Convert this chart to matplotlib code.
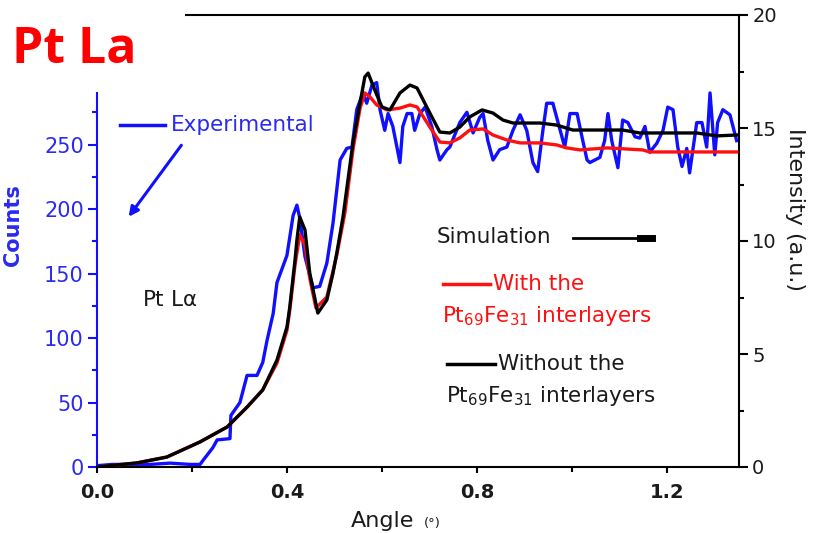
import matplotlib
matplotlib.use("Agg")
import matplotlib.pyplot as plt
from matplotlib.lines import Line2D
from matplotlib.patches import FancyArrowPatch

plt.rcParams['font.family'] = ['DejaVu Sans']

# ---------------- data ----------------
exp_angle = [0.000, 0.032, 0.112, 0.154, 0.196, 0.217, 0.223, 0.244, 0.253, 0.280, 0.282,
             0.301, 0.316, 0.337, 0.349, 0.358, 0.371, 0.379, 0.400, 0.413, 0.421, 0.427,
             0.438, 0.455, 0.469, 0.484, 0.497, 0.512, 0.526, 0.537, 0.547, 0.560, 0.568,
             0.579, 0.589, 0.596, 0.606, 0.613, 0.623, 0.638, 0.644, 0.653, 0.663, 0.669,
             0.680, 0.691, 0.705, 0.716, 0.722, 0.737, 0.743, 0.764, 0.779, 0.792, 0.806,
             0.813, 0.823, 0.834, 0.848, 0.863, 0.876, 0.891, 0.905, 0.918, 0.928, 0.939,
             0.947, 0.960, 0.971, 0.985, 0.996, 1.011, 1.023, 1.032, 1.038, 1.059, 1.069,
             1.076, 1.084, 1.097, 1.107, 1.118, 1.133, 1.143, 1.154, 1.164, 1.179, 1.192,
             1.202, 1.213, 1.223, 1.232, 1.242, 1.248, 1.263, 1.274, 1.284, 1.291, 1.301,
             1.307, 1.318, 1.333, 1.347]
exp_counts = [1, 2, 2, 3, 2, 2, 5, 15, 21, 22, 40,
              50, 71, 71, 81, 98, 119, 143, 164, 195, 203, 193,
              163, 139, 140, 158, 189, 238, 247, 248, 277, 290, 282,
              296, 298, 277, 261, 274, 264, 236, 264, 274, 274, 261,
              274, 279, 264, 246, 238, 246, 248, 267, 275, 259, 271,
              274, 253, 238, 246, 248, 261, 273, 261, 236, 229, 261,
              282, 282, 267, 248, 274, 274, 253, 238, 236, 240, 253,
              274, 253, 232, 269, 267, 256, 255, 264, 244, 251, 261,
              279, 277, 248, 233, 247, 228, 267, 267, 248, 290, 242,
              267, 277, 273, 253]

sim_angle = [0.000, 0.084, 0.147, 0.217, 0.274, 0.316, 0.349, 0.379, 0.400, 0.406,
             0.417, 0.421, 0.427, 0.438, 0.448, 0.465, 0.484, 0.497, 0.505, 0.518,
             0.539, 0.554, 0.564, 0.571, 0.585, 0.600, 0.617, 0.638, 0.659, 0.674,
             0.701, 0.722, 0.743, 0.764, 0.785, 0.811, 0.834, 0.855, 0.876, 0.933,
             0.968, 1.002, 1.107, 1.143, 1.263, 1.305, 1.347]
without_int = [0.00, 0.18, 0.44, 1.11, 1.77, 2.65, 3.41, 4.73, 6.19, 7.08,
               9.16, 10.04, 11.06, 10.49, 8.58, 6.81, 7.39, 8.58, 9.47, 11.06,
               14.34, 16.11, 17.26, 17.43, 16.68, 15.93, 15.80, 16.55, 16.90, 16.77,
               15.66, 14.82, 14.78, 15.04, 15.49, 15.80, 15.66, 15.35, 15.22, 15.22,
               15.13, 14.91, 14.91, 14.78, 14.78, 14.65, 14.69]

with_angle = [0.000, 0.084, 0.147, 0.217, 0.274, 0.316, 0.349, 0.379, 0.400, 0.406,
              0.417, 0.427, 0.438, 0.448, 0.461, 0.484, 0.505, 0.522, 0.539, 0.554,
              0.564, 0.575, 0.589, 0.611, 0.638, 0.659, 0.674, 0.701, 0.722, 0.743,
              0.764, 0.785, 0.813, 0.834, 0.863, 0.891, 0.933, 0.968, 0.989, 1.017,
              1.074, 1.149, 1.164, 1.347]
with_int = [0.00, 0.18, 0.44, 1.11, 1.77, 2.65, 3.41, 4.60, 6.05, 6.95,
            8.94, 10.27, 9.82, 8.36, 7.04, 7.52, 9.38, 11.24, 14.03, 15.88,
            16.55, 16.37, 16.02, 15.80, 15.88, 16.02, 15.93, 15.04, 14.38, 14.34,
            14.56, 14.91, 14.96, 14.69, 14.47, 14.34, 14.34, 14.25, 14.12, 14.03,
            14.12, 14.03, 13.94, 13.94]

x_ticks = [0.0, 0.4, 0.8, 1.2]
x_ticklabels = ['0.0', '0.4', '0.8', '1.2']
count_ticks = [0, 50, 100, 150, 200, 250]
int_ticks = [0, 5, 10, 15, 20]

BLUE = '#1010ff'
TBLUE = '#2a2af0'
RED = '#ff1010'
DARK = '#1a1a1a'
ANN = 15.5

W, H = 821, 533
fig = plt.figure(figsize=(W / 100, H / 100), dpi=100)
ax = fig.add_axes([97 / W, 1 - 467 / H, (739 - 97) / W, (467 - 15) / H])
ax2 = ax.twinx()

def P(x, y):
    return (x / W, 1 - y / H)

# curves
ax.plot(exp_angle, exp_counts, color=BLUE, lw=2.4, zorder=3)
ax2.plot(with_angle, with_int, color=RED, lw=2.4, zorder=3)
ax2.plot(sim_angle, without_int, color='black', lw=2.4, zorder=4)

ax.set_xlim(0, 1.352)
ax.set_ylim(0, 350.4)
ax2.set_ylim(0, 20)

# spines
ax.spines['left'].set_color(BLUE)
ax.spines['left'].set_linewidth(1.5)
ax.spines['left'].set_bounds(0, 290)
ax.spines['right'].set_visible(False)
ax.spines['top'].set_bounds(0.187, 1.352)
ax.spines['top'].set_linewidth(1.5)
ax.spines['bottom'].set_linewidth(1.5)
ax2.spines['left'].set_visible(False)
ax2.spines['top'].set_visible(False)
ax2.spines['bottom'].set_visible(False)
ax2.spines['right'].set_linewidth(1.5)

# ticks
ax.set_xticks(x_ticks)
ax.set_xticklabels(x_ticklabels)
ax.set_xticks([0.2, 0.6, 1.0], minor=True)
ax.set_yticks(count_ticks)
ax.set_yticks([25, 75, 125, 175, 225, 275], minor=True)
ax2.set_yticks(int_ticks)
ax2.set_yticks([2.5, 7.5, 12.5, 17.5], minor=True)

ax.tick_params(axis='x', which='major', direction='out', length=4.5, width=1.5,
               labelsize=14, labelcolor=DARK, pad=7)
ax.tick_params(axis='x', which='minor', direction='out', length=3.5, width=1.5)
ax.tick_params(axis='x', top=False, which='both')
ax.tick_params(axis='y', which='major', direction='out', length=6.5, width=1.5,
               color=BLUE, labelsize=15, labelcolor=TBLUE, pad=3)
ax.tick_params(axis='y', which='minor', direction='out', length=3.8, width=1.5, color=BLUE)
ax2.tick_params(axis='y', which='major', direction='out', length=6.5, width=1.5,
                labelsize=14, labelcolor=DARK, pad=3)
ax2.tick_params(axis='y', which='minor', direction='out', length=3.8, width=1.5)
for lab in ax.get_xticklabels():
    lab.set_fontweight('bold')

# axis labels
fig.text(*P(13, 225), 'Counts', rotation=90, color=TBLUE, fontsize=15,
         fontweight='bold', ha='center', va='center')
fig.text(*P(795, 209), 'Intensity (a.u.)', rotation=-90, color=DARK,
         fontsize=16, ha='center', va='center')
fig.text(*P(351, 527), 'Angle', color=DARK, fontsize=16, ha='left', va='baseline')
fig.text(*P(424, 527), '(°)', color=DARK, fontsize=9.5, ha='left', va='baseline')

# title
fig.text(*P(12, 63), 'Pt La', color='#ff0000', fontsize=36, fontweight='bold',
         family='Open Sans', ha='left', va='baseline')

# annotations
fig.add_artist(Line2D([120 / W, 165 / W], [1 - 125 / H] * 2, color=BLUE, lw=2.5))
fig.text(*P(171, 125), 'Experimental', color=TBLUE, fontsize=ANN, ha='left', va='center')
fig.add_artist(FancyArrowPatch(
    P(183, 143), P(127, 219), transform=fig.transFigure, arrowstyle='-|>',
    mutation_scale=14, color=BLUE, lw=2.2))

fig.text(*P(437, 237), 'Simulation', color=DARK, fontsize=ANN, ha='left', va='center')
fig.add_artist(Line2D([573 / W, 645 / W], [1 - 238 / H] * 2, color='black', lw=2))
fig.add_artist(Line2D([640 / W, 652 / W], [1 - 238 / H] * 2, color='black', lw=5))

fig.text(*P(142, 300), 'Pt L$\\mathregular{\\alpha}$', color=DARK, fontsize=ANN,
         ha='left', va='center')

fig.add_artist(Line2D([443 / W, 490 / W], [1 - 284 / H] * 2, color=RED, lw=2.5))
fig.text(*P(493, 284), 'With the', color=RED, fontsize=ANN, ha='left', va='center')
fig.text(*P(442, 316), 'Pt$_{\\mathregular{69}}$Fe$_{\\mathregular{31}}$ interlayers',
         color=RED, fontsize=ANN, ha='left', va='center')

fig.add_artist(Line2D([447 / W, 495 / W], [1 - 364 / H] * 2, color='black', lw=2.5))
fig.text(*P(498, 364), 'Without the', color=DARK, fontsize=ANN, ha='left', va='center')
fig.text(*P(446, 396), 'Pt$_{\\mathregular{69}}$Fe$_{\\mathregular{31}}$ interlayers',
         color=DARK, fontsize=ANN, ha='left', va='center')

fig.savefig('out.png', dpi=100)
